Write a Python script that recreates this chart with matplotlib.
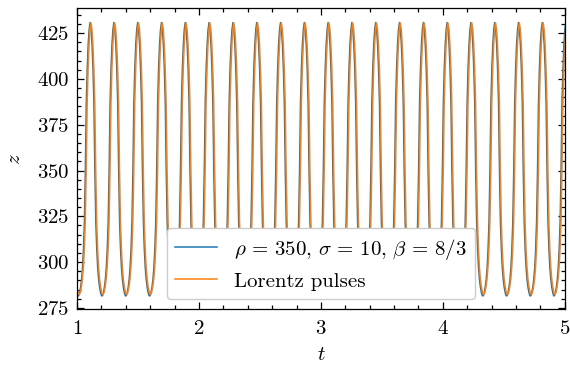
import matplotlib
matplotlib.use("Agg")
import matplotlib.pyplot as plt
import numpy as np
from matplotlib.ticker import MultipleLocator

plt.rcParams.update({
    "font.family": "serif",
    "font.serif": ["cmr10"],
    "mathtext.fontset": "cm",
    "axes.formatter.use_mathtext": True,
    "font.size": 15,
})

# ---- data ----
# times of the z-maxima of the Lorentz-pulse curve (incl. one before t=1 and one after t=5)
peak_times_pulses = [0.920, 1.115, 1.310, 1.505, 1.700, 1.895, 2.090, 2.286, 2.481,
                     2.676, 2.871, 3.066, 3.261, 3.456, 3.651, 3.847, 4.042, 4.237,
                     4.432, 4.627, 4.822, 5.015]
# the Lorenz-system maxima sit slightly earlier
peak_times_lorenz = [0.913, 1.108, 1.303, 1.498, 1.693, 1.888, 2.083, 2.279, 2.474,
                     2.669, 2.864, 3.059, 3.254, 3.449, 3.644, 3.840, 4.035, 4.230,
                     4.425, 4.620, 4.815, 5.008]

# one pulse: time offset from the maximum, and z
pulse_dt = [-0.0975, -0.0917, -0.0858, -0.0780, -0.0702, -0.0624, -0.0546, -0.0468,
            -0.0390, -0.0312, -0.0234, -0.0156, -0.0078, 0.0, 0.0078, 0.0156, 0.0234,
            0.0312, 0.0390, 0.0468, 0.0546, 0.0624, 0.0702, 0.0780, 0.0858, 0.0917]
pulse_z_lorenz = [281.5, 282.0, 283.4, 286.2, 290.3, 296.8, 306.8, 322.0, 350.0,
                  387.0, 406.0, 419.0, 427.0, 430.8, 427.0, 419.0, 406.0, 387.0,
                  350.0, 322.0, 306.8, 296.8, 290.3, 286.2, 283.4, 282.0]
pulse_z_pulses = [282.3, 282.8, 284.1, 286.8, 290.8, 297.2, 307.0, 322.0, 350.0,
                  387.0, 406.0, 419.0, 427.0, 430.6, 427.0, 419.0, 406.0, 387.0,
                  350.0, 322.0, 307.0, 297.2, 290.8, 286.8, 284.1, 282.8]

label_lorenz = r"$\rho\,=\,350,\,\sigma\,=\,10,\,\beta\,=\,8/3$"
label_pulses = "Lorentz pulses"


def build(peaks, zs):
    t = []
    z = []
    for p in peaks:
        for d, v in zip(pulse_dt, zs):
            t.append(p + d)
            z.append(v)
    t.append(peaks[-1] - pulse_dt[0])
    z.append(zs[0])
    return np.array(t), np.array(z)


t_l, z_l = build(peak_times_lorenz, pulse_z_lorenz)
t_p, z_p = build(peak_times_pulses, pulse_z_pulses)

fig = plt.figure(figsize=(5.70, 3.67), dpi=100)
ax = fig.add_axes([0.135, 0.157, 0.991 - 0.135, 0.977 - 0.157])

ax.plot(t_l, z_l, color="#1f77b4", lw=1.1, label=label_lorenz)
ax.plot(t_p, z_p, color="#ff7f0e", lw=1.1, label=label_pulses)

ax.set_xlim(1, 5)
ax.set_ylim(274.2, 438.5)
ax.xaxis.set_major_locator(MultipleLocator(1))
ax.xaxis.set_minor_locator(MultipleLocator(0.2))
ax.yaxis.set_major_locator(MultipleLocator(25))
ax.yaxis.set_minor_locator(MultipleLocator(5))

for s in ax.spines.values():
    s.set_linewidth(0.9)
ax.tick_params(which="both", direction="in", top=True, right=True, width=0.9)
ax.tick_params(which="major", length=5)
ax.tick_params(which="minor", length=2.6)
ax.tick_params(axis="x", which="major", pad=7.5)
ax.tick_params(axis="y", which="major", pad=5.5)

ax.set_xlabel(r"$t$", labelpad=6)
ax.set_ylabel(r"$z$", labelpad=9)

leg = ax.legend(loc="lower center", framealpha=1.0, fontsize=15)

fig.savefig("out.png", dpi=100)
